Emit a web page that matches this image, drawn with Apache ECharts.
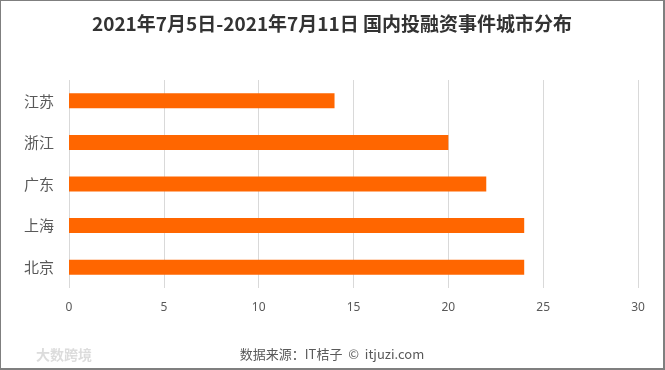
<!DOCTYPE html>
<html><head><meta charset="utf-8">
<script src="https://cdn.jsdelivr.net/npm/echarts@6/dist/echarts.min.js"></script>
<style>html,body{margin:0;padding:0;background:#fff}#c{width:665px;height:370px;box-sizing:border-box;border:1px solid #7f7f7f;border-width:1px 2px 2px 1px}</style>
</head><body><div id="c"></div>
<script>
const categories = ['北京', '上海', '广东', '浙江', '江苏'];
const values = [24, 24, 22, 20, 14];
const titleText = '2021年7月5日-2021年7月11日 国内投融资事件城市分布';
const sourceText = '数据来源：IT桔子  ©  itjuzi.com';
const chart = echarts.init(document.getElementById('c'), null, {renderer: 'canvas'});
chart.setOption({
  animation: false,
  backgroundColor: '#fff',
  title: [{
    text: titleText, left: 'center', top: 8,
    textStyle: {fontFamily: '"Noto Sans CJK SC", sans-serif', fontSize: 19, fontWeight: 'bold', color: '#333'}
  }, {
    text: sourceText, left: 'center', top: 342,
    textStyle: {fontFamily: '"Noto Sans CJK SC", sans-serif', fontSize: 13, fontWeight: 'normal', color: '#595959'}
  }, {
    text: '大数跨境', left: 30, top: 342,
    textStyle: {fontFamily: '"Noto Sans CJK SC", sans-serif', fontSize: 14, fontWeight: 'bold', color: '#dcdcdc'}
  }],
  grid: {left: 68, right: 25, top: 79, bottom: 80, containLabel: false},
  xAxis: {
    type: 'value', min: 0, max: 30, interval: 5,
    axisLine: {show: false}, axisTick: {show: false},
    axisLabel: {color: '#595959', fontSize: 12, margin: 14, fontFamily: '"Noto Sans", sans-serif'},
    splitLine: {lineStyle: {color: '#d9d9d9', width: 1}}
  },
  yAxis: {
    type: 'category', data: categories,
    axisLine: {show: false}, axisTick: {show: false},
    axisLabel: {color: '#595959', fontSize: 15, margin: 15, fontFamily: '"Noto Sans CJK SC", sans-serif'}
  },
  series: [{
    type: 'bar', data: values, barWidth: 15,
    itemStyle: {color: '#FF6600'}
  }]
});
</script></body></html>
